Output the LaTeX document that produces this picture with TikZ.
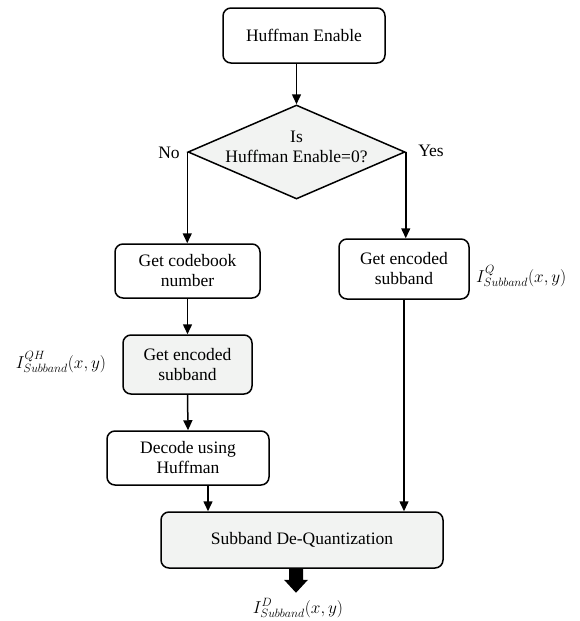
\documentclass[tikz,border=0pt]{standalone}
\usepackage{fontspec}
\setmainfont{Liberation Serif}
\usetikzlibrary{shapes.geometric,arrows.meta,calc}
\definecolor{boxgray}{HTML}{F2F3F2}
\tikzset{
  proc/.style={draw, line width=1.5pt, rounded corners=8pt, align=center, font=\fontsize{17.5}{20}\selectfont, inner sep=0pt},
  graybox/.style={proc, fill=boxgray},
  conn/.style={line width=1.5pt, -{Triangle[width=9pt,length=10pt]}},
  lbl/.style={font=\fontsize{17.5}{20}\selectfont, inner sep=0pt},
  mlbl/.style={font=\fontsize{18}{20}\selectfont, inner sep=0pt}
}
\begin{document}
\begin{tikzpicture}[x=1pt,y=-1pt]
\useasboundingbox (0,0) rectangle (580,621);
% boxes
\node[proc, minimum width=162pt, minimum height=55pt] (he) at (304,35.5) {Huffman Enable};
\node[draw, line width=1.5pt, fill=boxgray, diamond, minimum width=217pt, minimum height=94pt, inner sep=0pt] (dec) at (296.5,152) {};
\node[lbl, align=center] (dectext) at (296.5,147) {Is\\Huffman Enable=0?};
\node[lbl] (no) at (169,153) {No};
\node[lbl] (yes) at (431,151) {Yes};
\node[proc, minimum width=145pt, minimum height=54pt] (cb) at (187.5,271) {Get codebook\\number};
\node[graybox, minimum width=129pt, minimum height=59pt] (gl) at (187.5,364.5) {Get encoded\\subband};
\node[proc, minimum width=162pt, minimum height=54pt] (dh) at (188,458) {Decode using\\Huffman};
\node[proc, minimum width=130pt, minimum height=60pt] (gr) at (404,269) {Get encoded\\subband};
\node[graybox, minimum width=282pt, minimum height=56pt] (sub) at (302,540) {Subband De-Quantization};
% math labels
\node[mlbl] (lqh) at (61,362) {$I^{QH}_{Subband}(x,y)$};
\node[mlbl, anchor=west] (lq) at (476,276) {$I^{Q}_{Subband}(x,y)$};
\node[mlbl] (ld) at (298,608) {$I^{D}_{Subband}(x,y)$};
% connectors
\draw[conn] (dec.north |- he.south) -- (dec.north);
\draw[conn] (dec.west) -- (dec.west |- cb.north);
\draw[conn] (dec.east) -- (dec.east |- gr.north);
\draw[conn] (cb.south) -- (gl.north);
\draw[conn] (gl.south) -- (dh.north);
\draw[conn] ([xshift=20pt]dh.south) -- ([xshift=20pt]dh.south |- sub.north);
\draw[conn] (gr.south) -- (gr.south |- sub.north);
% thick arrow
\coordinate (ta) at ([xshift=-6pt]sub.south);
\fill ($(ta)+(-7,0)$) -- ($(ta)+(7,0)$) -- ($(ta)+(7,11)$) -- ($(ta)+(12,11)$) -- ($(ta)+(0,24)$) -- ($(ta)+(-12,11)$) -- ($(ta)+(-7,11)$) -- cycle;
\end{tikzpicture}
\end{document}
